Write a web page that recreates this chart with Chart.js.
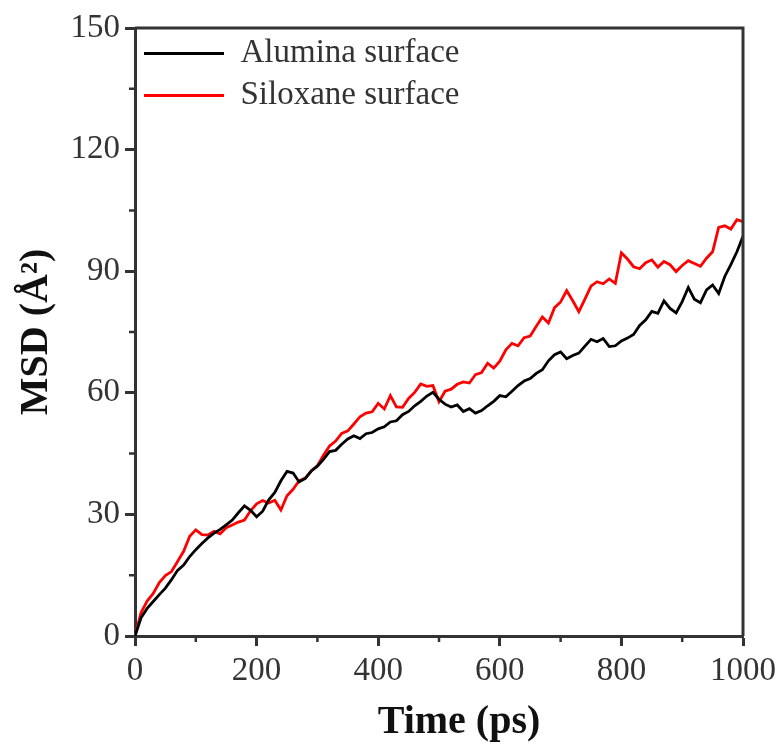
<!DOCTYPE html>
<html>
<head>
<meta charset="utf-8">
<script src="https://cdn.jsdelivr.net/npm/chart.js@4.4.0/dist/chart.umd.min.js"></script>
<style>
  body { margin: 0; background: #fff; }
  #wrap { width: 783px; height: 751px; }
</style>
</head>
<body>
<div id="wrap"><canvas id="msdCanvas"></canvas></div>
<script>
// time axis (ps), one value every 10 ps
const times = [0,10,20,30,40,50,60,70,80,90,100,110,120,130,140,150,160,170,180,190,
  200,210,220,230,240,250,260,270,280,290,300,310,320,330,340,350,360,370,380,390,
  400,410,420,430,440,450,460,470,480,490,500,510,520,530,540,550,560,570,580,590,
  600,610,620,630,640,650,660,670,680,690,700,710,720,730,740,750,760,770,780,790,
  800,810,820,830,840,850,860,870,880,890,900,910,920,930,940,950,960,970,980,990,1000];

const alumina = [0,4.5,6.8,8.5,10.2,11.8,13.9,16.2,17.5,19.6,21.3,22.8,24.2,25.4,26.3,27.4,28.6,30.4,32.1,31.0,
  29.4,30.8,33.6,35.4,38.3,40.6,40.2,38.0,38.9,40.7,41.9,43.6,45.5,45.8,47.3,48.6,49.4,48.7,49.9,50.2,
  51.1,51.6,52.8,53.1,54.6,55.4,56.8,57.9,59.2,60.1,58.4,57.2,56.5,57.0,55.4,56.1,55.0,55.6,56.8,57.9,
  59.3,59.0,60.4,61.8,62.9,63.5,64.8,65.7,67.9,69.4,70.1,68.4,69.2,69.8,71.5,73.2,72.6,73.4,71.4,71.6,
  72.8,73.5,74.4,76.6,78.0,80.1,79.6,82.7,80.8,79.7,82.5,86.0,83.1,82.2,85.4,86.6,84.5,88.7,91.6,94.8,98.6];

const siloxane = [0,5.8,8.6,10.5,13.2,14.9,15.9,18.4,20.9,24.6,26.2,25.0,24.9,25.8,25.2,26.7,27.4,28.1,28.6,30.9,
  32.6,33.4,32.8,33.5,31.1,34.6,36.2,38.3,38.9,40.8,42.0,44.6,46.9,48.1,50.0,50.6,52.3,54.1,55.0,55.3,
  57.4,56.0,59.3,56.5,56.4,58.6,60.1,62.2,61.6,61.8,57.8,60.4,60.9,62.1,62.7,62.4,64.5,65.0,67.3,66.1,
  67.8,70.6,72.2,71.6,73.6,74.0,76.4,78.7,77.2,81.0,82.4,85.2,82.7,80.0,83.1,86.3,87.4,86.9,88.1,87.0,
  94.5,93.0,91.1,90.6,92.1,92.8,91.0,92.4,91.6,89.9,91.4,92.6,91.9,91.2,93.2,94.8,100.8,101.2,100.4,102.7,102.2];

const xTicks = [0,200,400,600,800,1000];
const yTicks = [0,30,60,90,120,150];
const xMinor = [100,300,500,700,900];
const yMinor = [15,45,75,105,135];

const axisColor = "#333";
const serif = "'Liberation Serif', 'Times New Roman', serif";

const toPoints = (vals) => vals.map((v, i) => ({x: times[i], y: v}));

// top/right frame lines and short minor ticks
const framePlugin = {
  id: "frame",
  afterDraw(chart) {
    const {ctx, chartArea: a, scales} = chart;
    ctx.save();
    ctx.strokeStyle = axisColor;
    ctx.lineWidth = 3;
    ctx.beginPath();
    ctx.moveTo(a.left, a.top);
    ctx.lineTo(a.right, a.top);
    ctx.lineTo(a.right, a.bottom);
    ctx.stroke();
    ctx.lineWidth = 2.5;
    ctx.beginPath();
    xMinor.forEach(v => {
      const px = scales.x.getPixelForValue(v);
      ctx.moveTo(px, a.bottom);
      ctx.lineTo(px, a.bottom + 6);
    });
    yMinor.forEach(v => {
      const py = scales.y.getPixelForValue(v);
      ctx.moveTo(a.left, py);
      ctx.lineTo(a.left - 6, py);
    });
    ctx.stroke();
    ctx.restore();
  }
};

new Chart(document.getElementById("msdCanvas"), {
  type: "line",
  data: {
    datasets: [{
      label: "Alumina surface",
      data: toPoints(alumina),
      borderColor: "#000000",
      backgroundColor: "#000000",
      borderWidth: 2.8
    }, {
      label: "Siloxane surface",
      data: toPoints(siloxane),
      borderColor: "#ff0000",
      backgroundColor: "#ff0000",
      borderWidth: 2.8
    }]
  },
  options: {
    responsive: true,
    maintainAspectRatio: false,
    animation: false,
    layout: { padding: { top: 28, right: 40, left: 0, bottom: 0 } },
    elements: { point: { radius: 0 }, line: { tension: 0 } },
    plugins: {
      tooltip: { enabled: false },
      legend: {
        position: "chartArea",
        align: "start",
        title: { display: true, text: "", padding: { top: 4, bottom: 0 }, font: { size: 20 } },
        labels: {
          usePointStyle: true,
          pointStyle: "line",
          pointStyleWidth: 80,
          padding: 9,
          color: axisColor,
          font: { family: serif, size: 33 }
        }
      }
    },
    scales: {
      x: {
        type: "linear",
        min: 0,
        max: 1000,
        afterFit: (s) => { s.height = 115; },
        afterBuildTicks: (s) => { s.ticks = xTicks.map(v => ({value: v})); },
        grid: { drawOnChartArea: false, tickLength: 10, tickWidth: 3, tickColor: axisColor },
        border: { width: 3, color: axisColor },
        ticks: { color: axisColor, padding: 6, maxRotation: 0, callback: (v) => String(v),
          font: { family: serif, size: 33 } },
        title: {
          display: true,
          text: "\u2003Time (ps)",
          color: "#111",
          padding: { top: 0, bottom: 4 },
          font: { family: serif, size: 40, weight: "bold" }
        }
      },
      y: {
        min: 0,
        max: 150,
        afterFit: (s) => { s.width = 135; },
        afterBuildTicks: (s) => { s.ticks = yTicks.map(v => ({value: v})); },
        grid: { drawOnChartArea: false, tickLength: 10, tickWidth: 3, tickColor: axisColor },
        border: { width: 3, color: axisColor },
        ticks: { color: axisColor, padding: 5, callback: (v) => String(v),
          font: { family: serif, size: 33 } },
        title: {
          display: true,
          text: "MSD (Å²)",
          color: "#111",
          padding: { top: 13, bottom: 0 },
          font: { family: serif, size: 40, weight: "bold" }
        }
      }
    }
  },
  plugins: [framePlugin]
});
</script>
</body>
</html>
